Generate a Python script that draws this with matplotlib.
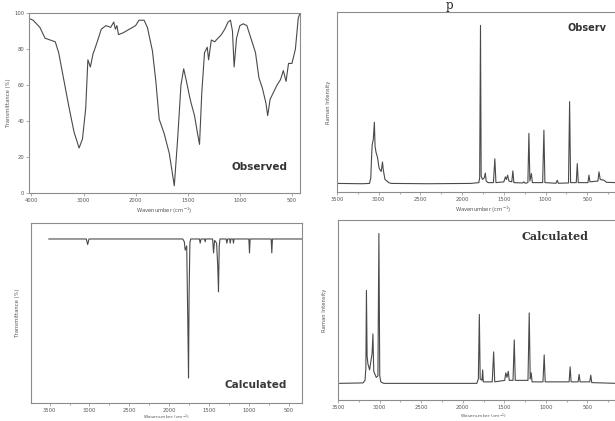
import numpy as np
import matplotlib
matplotlib.use("Agg")
import matplotlib.pyplot as plt
from matplotlib.ticker import FixedLocator, MultipleLocator

# ---------------- data ----------------
# Observed IR (wavenumber, transmittance %)
ir_obs_x = [4046, 3967, 3837, 3738, 3640, 3542, 3477, 3379, 3281, 3183, 3085, 3020,
            2958, 2916, 2868, 2820, 2748, 2659, 2569, 2479, 2419, 2389, 2359, 2329,
            2240, 2120, 2000, 1968, 1919, 1887, 1839, 1806, 1774, 1726, 1677, 1629,
            1597, 1565, 1539, 1516, 1484, 1468, 1435, 1403, 1387, 1365, 1339, 1313,
            1300, 1274, 1242, 1210, 1177, 1145, 1113, 1090, 1071, 1055, 1032, 1000,
            967, 933, 883, 850, 817, 783, 750, 733, 710, 677, 643, 610, 583, 557,
            533, 500, 467, 440, 423]
ir_obs_y = [97, 96, 92, 86, 85, 84, 78, 63, 48, 34, 25, 30,
            47, 74, 70, 77, 83, 91, 93, 92, 95, 91, 93, 88,
            89, 91, 93, 96, 96, 92, 79, 62, 41, 33, 22, 4,
            30, 60, 69, 63, 54, 50, 43, 32, 27, 56, 78, 81,
            74, 85, 84, 86, 88, 91, 95, 96, 90, 70, 86, 93,
            94, 93, 84, 78, 64, 58, 50, 43, 52, 56, 60, 63, 68, 62,
            72, 72, 80, 97, 100]

# Calculated IR (wavenumber, transmittance, baseline 100)
ir_calc_x = [3510, 3040, 3023, 3006, 1830, 1810, 1799, 1780, 1766, 1757, 1750, 1740,
             1730, 1620, 1611, 1600, 1555, 1548, 1540, 1455, 1443, 1430, 1405, 1390,
             1381, 1372, 1362, 1285, 1276, 1266, 1240, 1234, 1226, 1200, 1193, 1186,
             1000, 992, 984, 720, 712, 704, 333]
ir_calc_y = [100, 100, 96, 100, 100, 98, 92, 95, 40, 0, 60, 97,
             100, 100, 97, 100, 100, 98, 100, 100, 90, 99, 97, 80,
             62, 95, 100, 100, 97, 100, 100, 97, 100, 100, 97, 100,
             100, 90, 100, 100, 90, 100, 100]

# Observed Raman (wavenumber, relative intensity)
ra_obs_x = [3500, 3200, 3110, 3095, 3085, 3078, 3065, 3052, 3044, 3032, 3015, 2995,
            2970, 2955, 2945, 2925, 2880, 2850, 2400, 1900, 1800, 1790, 1780, 1772,
            1755, 1735, 1722, 1712, 1690, 1625, 1608, 1595, 1500, 1482, 1470, 1455,
            1440, 1405, 1392, 1380, 1275, 1260, 1245, 1212, 1200, 1188, 1170, 1158,
            1035, 1020, 1008, 875, 860, 848, 725, 712, 700, 632, 620, 608, 492, 480,
            468, 372, 360, 345, 300, 270, 150]
ra_obs_y = [0.5, 0.3, 0.5, 4, 18, 25, 28, 39, 24, 20, 17, 10,
            8, 14, 9, 3, 1, 0.5, 0.3, 0.5, 1, 4, 100, 5,
            3, 4, 7, 2, 1, 1, 16, 1, 1.5, 4.6, 3, 5.7,
            2, 1.5, 8.4, 1, 0.8, 1.5, 0.6, 1, 32, 2, 6.7, 1,
            1, 34, 1, 0.6, 2.5, 0.6, 0.8, 52, 1, 1, 13, 1, 1, 5.7,
            1.5, 2, 7.8, 3, 2.5, 1.2, 1]

# Calculated Raman (wavenumber, relative intensity)
ra_calc_x = [3480, 3200, 3175, 3165, 3158, 3150, 3140, 3120, 3090, 3080, 3070, 3040,
             3020, 3008, 2998, 2985, 2950, 1830, 1812, 1800, 1790, 1768, 1760, 1752,
             1645, 1628, 1615, 1495, 1482, 1468, 1452, 1440, 1395, 1380, 1368, 1215,
             1200, 1188, 1176, 1166, 1035, 1020, 1008, 720, 708, 696, 612, 600, 588,
             472, 460, 448, 150]
ra_calc_y = [0, 0.3, 2, 10, 62, 18, 13, 9, 20, 33, 8, 4,
             5, 100, 5, 1, 0, 0, 3, 46, 3, 2, 9, 1,
             1, 21, 1, 2, 7, 4, 8, 2, 2, 29, 2, 2,
             47, 3, 7, 1, 1, 19, 1, 1, 11, 1, 1, 6, 1,
             1, 5.5, 0.5, 0]

ir_obs_ticks = [4000, 3000, 2000, 1500, 1000, 500]
ir_obs_yticks = [0, 20, 40, 60, 80, 100]
spec_ticks = [3500, 3000, 2500, 2000, 1500, 1000, 500]

# ---------------- figure ----------------
W, H = 615, 421
fig = plt.figure(figsize=(W / 100, H / 100), dpi=100)

line_c = "#4a4a4a"
frame_c = "#8c8c8c"
tfs = 3.8


def px_axes(l, t, r, b):
    return fig.add_axes([l / W, 1 - b / H, (r - l) / W, (b - t) / H])


def style(ax):
    for s in ax.spines.values():
        s.set_color(frame_c)
        s.set_linewidth(0.8)
    ax.tick_params(axis="both", which="both", direction="out", length=2,
                   width=0.5, color=frame_c, labelsize=tfs, labelcolor="#555555", pad=1.5)
    ax.tick_params(which="minor", length=1.2)


# FTIR-style axis: 4000-2000 at half the scale of 2000-400 (increasing mapping)
def fwd(w):
    w = np.asarray(w, dtype=float)
    return np.where(w >= 2000, (w - 4000) / 1000, -2 - (2000 - w) / 500)


def inv(p):
    p = np.asarray(p, dtype=float)
    return np.where(p >= -2, 4000 + 1000 * p, 2000 + 500 * (p + 2))


# Top-left: observed IR
ax1 = px_axes(29, 13, 300, 193)
ax1.set_xscale("function", functions=(fwd, inv))
ax1.plot(ir_obs_x, ir_obs_y, color=line_c, lw=0.8)
ax1.set_xlim(4046, 423)
ax1.set_ylim(0, 100)
ax1.xaxis.set_major_locator(FixedLocator(ir_obs_ticks))
ax1.xaxis.set_minor_locator(FixedLocator([]))
ax1.set_xticklabels([str(t) for t in ir_obs_ticks])
ax1.set_yticks(ir_obs_yticks)
ax1.set_xlabel("Wavenumber (cm$^{-1}$)", fontsize=tfs, color="#555555", labelpad=2)
ax1.set_ylabel("Transmittance (%)", fontsize=tfs, color="#555555", labelpad=2)
style(ax1)
ax1.text(0.955, 0.145, "Observed", transform=ax1.transAxes, ha="right", va="center",
         fontsize=7.5, fontweight="bold", color="#333333")

# Top-right: observed Raman
ax2 = px_axes(337, 12, 629, 192)
ax2.plot(ra_obs_x, ra_obs_y, color=line_c, lw=0.8)
ax2.set_xlim(3500, 0)
ax2.set_ylim(-4.9, 108.4)
ax2.set_xticks(spec_ticks)
ax2.xaxis.set_minor_locator(MultipleLocator(250))
ax2.set_yticks([])
ax2.set_xlabel("Wavenumber (cm$^{-1}$)", fontsize=tfs, color="#555555", labelpad=2)
ax2.set_ylabel("Raman Intensity", fontsize=tfs, color="#555555", labelpad=4)
style(ax2)
fig.text(606 / W, 1 - 28 / H, "Observ", ha="right", va="center",
         fontsize=7, fontweight="bold", color="#333333")

# Bottom-left: calculated IR
ax3 = px_axes(31, 223, 302, 403)
ax3.plot(ir_calc_x, ir_calc_y, color=line_c, lw=0.8)
ax3.set_xlim(3734, 333)
ax3.set_ylim(-18, 111.5)
ax3.set_xticks(spec_ticks)
ax3.xaxis.set_minor_locator(MultipleLocator(250))
ax3.set_yticks([])
ax3.set_xlabel("Wavenumber (cm$^{-1}$)", fontsize=3.2, color="#555555")
ax3.xaxis.set_label_coords(0.5, (403 - 417) / 180)
ax3.xaxis.label.set_va("center")
ax3.set_ylabel("Transmittance (%)", fontsize=tfs, color="#555555", labelpad=8)
style(ax3)
fig.text(287 / W, 1 - 385 / H, "Calculated", ha="right", va="center",
         fontsize=7.5, fontweight="bold", color="#3a3a3a")

# Bottom-right: calculated Raman
ax4 = px_axes(338, 220, 629, 400)
ax4.plot(ra_calc_x, ra_calc_y, color=line_c, lw=0.8)
ax4.set_xlim(3480, 0)
ax4.set_ylim(-11.1, 109)
ax4.set_xticks(spec_ticks)
ax4.xaxis.set_minor_locator(MultipleLocator(250))
ax4.set_yticks([])
ax4.set_xlabel("Wavenumber (cm$^{-1}$)", fontsize=3.2, color="#555555")
ax4.xaxis.set_label_coords(0.5, (400 - 416) / 180)
ax4.xaxis.label.set_va("center")
ax4.set_ylabel("Raman Intensity", fontsize=tfs, color="#555555", labelpad=8)
style(ax4)
fig.text(588 / W, 1 - 237 / H, "Calculated", ha="right", va="center",
         fontsize=8, fontweight="bold", color="#333333", family="DejaVu Serif")

# Caption fragment at the top
fig.text(449 / W, 1 - 8.5 / H, "p", ha="center", va="baseline", fontsize=8.5,
         family="DejaVu Serif", color="#222222")

fig.savefig("out.png", dpi=100)
